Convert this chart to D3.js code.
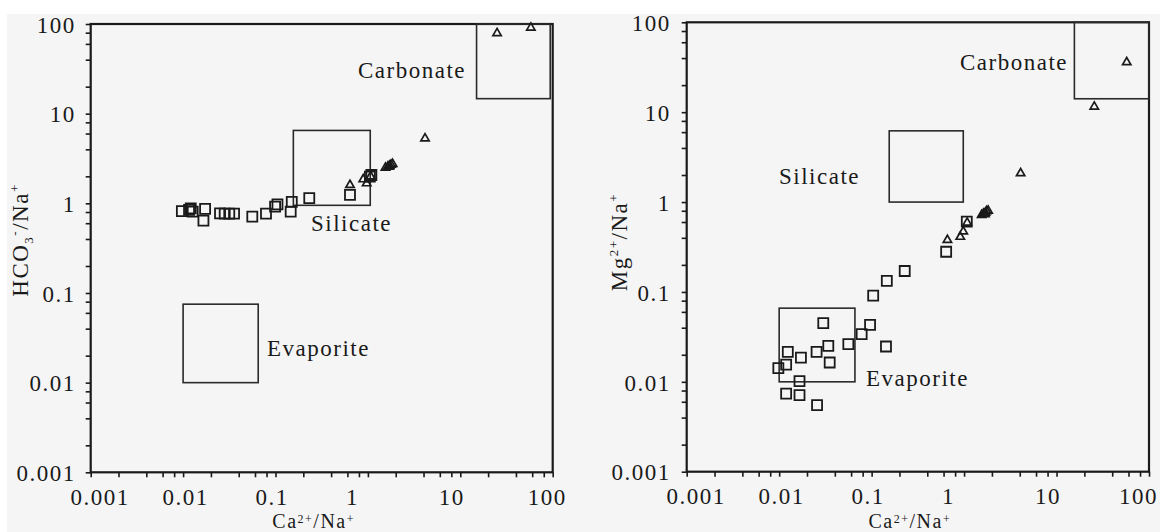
<!DOCTYPE html>
<html>
<head>
<meta charset="utf-8">
<script src="https://cdn.jsdelivr.net/npm/d3@7"></script>
<style>
  html, body { margin: 0; padding: 0; background: #ffffff; }
  svg { display: block; }
  text { font-family: "Liberation Serif", "Times New Roman", serif; fill: #1a1a1a; }
</style>
</head>
<body>
<svg id="chart" width="1160" height="532"></svg>
<script>
// ---------- DATA ----------
const tickValues = [0.001, 0.01, 0.1, 1, 10, 100];
const tickLabels = ["0.001", "0.01", "0.1", "1", "10", "100"];

// Left panel: Ca2+/Na+ vs HCO3-/Na+
const leftSquareCa   = [0.0097, 0.0116, 0.0121, 0.0127, 0.0173, 0.0166, 0.0251, 0.0282, 0.0316, 0.0356, 0.0561, 0.0789, 0.099, 0.105, 0.15, 0.146, 0.232, 0.64, 1.05, 1.09];
const leftSquareHCO3 = [0.82, 0.843, 0.88, 0.807, 0.865, 0.64, 0.774, 0.766, 0.766, 0.766, 0.71, 0.766, 0.917, 0.975, 1.04, 0.807, 1.14, 1.24, 1.98, 2.07];
const leftTriCa      = [0.64, 0.89, 0.97, 1.07, 1.55, 1.65, 1.72, 1.78, 1.85, 1.7, 4.15, 25, 58];
const leftTriHCO3    = [1.6, 1.85, 1.67, 2.0, 2.5, 2.58, 2.62, 2.7, 2.75, 2.55, 5.3, 79, 91];

// Right panel: Ca2+/Na+ vs Mg2+/Na+
const rightSquareCa = [0.104, 0.030, 0.0962, 0.078, 0.056, 0.143, 0.034, 0.0254, 0.0352, 0.0124, 0.0172, 0.0119, 0.0098, 0.0166, 0.0119, 0.0166, 0.0257, 0.146, 0.228, 0.64, 1.07];
const rightSquareMg = [0.091, 0.0449, 0.043, 0.0339, 0.0262, 0.0247, 0.0251, 0.0215, 0.0164, 0.0215, 0.0186, 0.0155, 0.0142, 0.0102, 0.0074, 0.0071, 0.0055, 0.133, 0.171, 0.28, 0.605];
const rightTriCa    = [0.66, 0.91, 0.98, 1.08, 1.55, 1.62, 1.7, 1.75, 1.82, 1.68, 4.09, 25.6, 57.4];
const rightTriMg    = [0.378, 0.41, 0.47, 0.59, 0.72, 0.74, 0.76, 0.79, 0.8, 0.73, 2.09, 11.5, 35.9];

// Source-rock domains [xMin, xMax, yMin, yMax]
const domainNames = ["Carbonate", "Silicate", "Evaporite"];
const leftDomains  = [[15, 94, 14.7, 100], [0.156, 1.06, 0.95, 6.5], [0.01, 0.065, 0.01, 0.075]];
const rightDomains = [[15.6, 100, 14.1, 100], [0.155, 0.98, 1.0, 6.2], [0.01, 0.066, 0.01, 0.066]];

// ---------- DRAWING ----------
const svg = d3.select("#chart");
svg.append("rect").attr("x", 7).attr("y", 14).attr("width", 1153).attr("height", 518).attr("fill", "#f5f5f5");

const FONT = 23;
const LS = "1.5px";

function minorTicks() {
  const t = [];
  for (let e = -3; e <= 1; e++) {
    [1, 2, 4, 6, 8].forEach(m => t.push(m * Math.pow(10, e)));
  }
  t.push(100);
  return t;
}

function panel(cfg) {
  const g = svg.append("g");
  const x = d3.scaleLog().domain([0.001, 100]).range([cfg.x0, cfg.x1]);
  const y = d3.scaleLog().domain([0.001, 100]).range([cfg.y1, cfg.y0]);
  const ticks = minorTicks();
  const idxOf = v => tickValues.findIndex(t => Math.abs(Math.log10(v) - Math.log10(t)) < 1e-6);
  const labelOf = v => { const i = idxOf(v); return i >= 0 ? tickLabels[i] : ""; };

  // x axis
  const xa = g.append("g").attr("transform", `translate(0,${cfg.y1})`)
    .call(d3.axisBottom(x).tickValues(ticks).tickSize(5).tickPadding(11).tickFormat(labelOf));
  xa.select(".domain").remove();
  xa.selectAll(".tick line").attr("stroke", "#1a1a1a").attr("stroke-width", 1.6);
  xa.selectAll(".tick text").attr("font-size", FONT).attr("font-family", null).attr("fill", "#1a1a1a")
    .style("letter-spacing", LS)
    .attr("dx", d => { const i = idxOf(d); return i >= 0 ? cfg.xNudge[i] : 0; });

  // y axis
  const ya = g.append("g").attr("transform", `translate(${cfg.x0},0)`)
    .call(d3.axisLeft(y).tickValues(ticks).tickSize(5).tickPadding(cfg.yPad).tickFormat(labelOf));
  ya.select(".domain").remove();
  ya.selectAll(".tick line").attr("stroke", "#1a1a1a").attr("stroke-width", 1.6);
  ya.selectAll(".tick text").attr("font-size", FONT).attr("font-family", null).attr("fill", "#1a1a1a")
    .style("letter-spacing", LS).attr("dy", "0.36em");

  // frame
  g.append("rect").attr("x", cfg.x0).attr("y", cfg.y0)
    .attr("width", cfg.x1 - cfg.x0).attr("height", cfg.y1 - cfg.y0)
    .attr("fill", "none").attr("stroke", "#1a1a1a").attr("stroke-width", 2.2);

  // domain boxes
  cfg.domains.forEach(d => {
    g.append("rect")
      .attr("x", x(d[0])).attr("y", y(d[3]))
      .attr("width", x(d[1]) - x(d[0])).attr("height", y(d[2]) - y(d[3]))
      .attr("fill", "none").attr("stroke", "#2a2a2a").attr("stroke-width", 1.6);
  });

  // domain labels
  cfg.labels.forEach((lab, i) => {
    g.append("text").attr("x", lab[0]).attr("y", lab[1])
      .attr("font-size", FONT).style("letter-spacing", LS).text(domainNames[i]);
  });

  // squares
  const sq = d3.symbol().type(d3.symbolSquare).size(100);
  g.append("g").selectAll("path").data(cfg.sqX.map((v, i) => [v, cfg.sqY[i]])).join("path")
    .attr("d", sq).attr("transform", d => `translate(${x(d[0])},${y(d[1])})`)
    .attr("fill", "none").attr("stroke", "#1a1a1a").attr("stroke-width", 1.8);

  // triangles
  const tri = d3.symbol().type(d3.symbolTriangle).size(30);
  g.append("g").selectAll("path").data(cfg.trX.map((v, i) => [v, cfg.trY[i]])).join("path")
    .attr("d", tri).attr("transform", d => `translate(${x(d[0])},${y(d[1])})`)
    .attr("fill", "none").attr("stroke", "#1a1a1a").attr("stroke-width", 1.7);

  // x title
  const xt = g.append("text").attr("x", (cfg.x0 + cfg.x1) / 2 - 8).attr("y", 527.5)
    .attr("text-anchor", "middle").attr("font-size", 20).style("letter-spacing", LS);
  xt.append("tspan").text("Ca");
  xt.append("tspan").attr("font-size", 12).attr("dy", -5).text("2+");
  xt.append("tspan").attr("dy", 5).text("/Na");
  xt.append("tspan").attr("font-size", 12).attr("dy", -5).text("+");

  // y title
  const yt = g.append("text").attr("transform", `translate(${cfg.ytX},${cfg.ytY}) rotate(-90)`)
    .attr("text-anchor", "middle").attr("font-size", FONT).style("letter-spacing", LS);
  cfg.yTitle(yt);
}

panel({
  x0: 90.7, x1: 552.7, y0: 24, y1: 472.3, yPad: 10,
  xNudge: [9, 2, -4, -16, -9, -6],
  domains: leftDomains,
  labels: [[358, 78], [311, 231], [267, 356]],
  sqX: leftSquareCa, sqY: leftSquareHCO3, trX: leftTriCa, trY: leftTriHCO3,
  ytX: 28, ytY: 240,
  yTitle: t => {
    t.append("tspan").text("HCO");
    t.append("tspan").attr("font-size", 13).attr("dy", 5).text("3");
    t.append("tspan").attr("font-size", 13).attr("dy", -14).text("-");
    t.append("tspan").attr("dy", 9).text("/Na");
    t.append("tspan").attr("font-size", 13).attr("dy", -9).text("+");
  }
});

panel({
  x0: 686.7, x1: 1149, y0: 22.3, y1: 471.7, yPad: 11,
  xNudge: [9, 2, -4, -16, -9, -11],
  domains: rightDomains,
  labels: [[960, 70], [779, 184], [866, 386]],
  sqX: rightSquareCa, sqY: rightSquareMg, trX: rightTriCa, trY: rightTriMg,
  ytX: 627, ytY: 242,
  yTitle: t => {
    t.append("tspan").text("Mg");
    t.append("tspan").attr("font-size", 13).attr("dy", -9).text("2+");
    t.append("tspan").attr("dy", 9).text("/Na");
    t.append("tspan").attr("font-size", 13).attr("dy", -9).text("+");
  }
});
</script>
</body>
</html>
